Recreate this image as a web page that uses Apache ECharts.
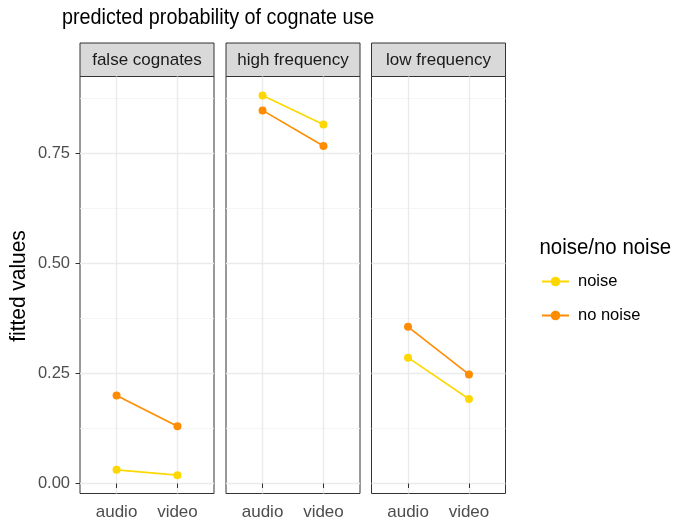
<!DOCTYPE html>
<html>
<head>
<meta charset="utf-8">
<script src="https://cdn.jsdelivr.net/npm/echarts@6/dist/echarts.min.js"></script>
<style>html,body{margin:0;padding:0;background:#fff;}#c{width:676px;height:521px;}</style>
</head>
<body>
<div id="c"></div>
<script>
// ---- data ----
const panels = ['false cognates', 'high frequency', 'low frequency'];
const conditions = ['audio', 'video'];
const groups = ['noise', 'no noise'];
const yTicks = [0, 0.25, 0.5, 0.75];
const yMinorTicks = [0.125, 0.375, 0.625, 0.875];
const noiseFalse = [0.031, 0.019];
const noiseHigh = [0.882, 0.816];
const noiseLow = [0.286, 0.192];
const noNoiseFalse = [0.200, 0.130];
const noNoiseHigh = [0.848, 0.767];
const noNoiseLow = [0.356, 0.248];

const noiseValues = [noiseFalse, noiseHigh, noiseLow];
const noNoiseValues = [noNoiseFalse, noNoiseHigh, noNoiseLow];
const groupValues = [noiseValues, noNoiseValues];
const groupColors = ['#FFD700', '#FF8C00'];

// ---- layout ----
const FONT = '"Liberation Sans", Arial, sans-serif';
const panelLeft = [80, 226, 371.5];
const panelWidth = 134;
const plotTop = 76.5;
const plotHeight = 417;
const stripTop = 43;
const stripHeight = 33.5;
const xPos = conditions.map((c, j) => j + 1);

const grids = [], xAxes = [], yAxes = [], series = [], graphics = [];
panels.forEach((p, i) => {
  grids.push({left: panelLeft[i], top: plotTop, width: panelWidth, height: plotHeight,
    show: true, borderColor: '#333333', borderWidth: 1, backgroundColor: '#fff', containLabel: false});
  xAxes.push({
    type: 'value', gridIndex: i, min: 0.4, max: 2.6,
    axisLine: {show: false},
    axisTick: {show: true, customValues: xPos, length: 4.5, lineStyle: {color: '#333333', width: 1}},
    axisLabel: {show: true, customValues: xPos, margin: 10, fontSize: 17, color: '#4d4d4d', fontFamily: FONT,
      formatter: v => conditions[Math.round(v) - 1] || ''},
    splitLine: {show: true, lineStyle: {color: '#ebebeb', width: 1.4}}
  });
  yAxes.push({
    type: 'value', gridIndex: i, min: -0.0227, max: 0.925,
    axisLine: {show: false},
    axisTick: {show: i === 0, customValues: yTicks, length: 4.5, lineStyle: {color: '#333333', width: 1}},
    axisLabel: {show: i === 0, customValues: yTicks, margin: 10, fontSize: 16.5, color: '#4d4d4d', fontFamily: FONT,
      formatter: v => v.toFixed(2)},
    splitLine: {show: true, lineStyle: {color: '#ebebeb', width: 1.4}}
  });
  yAxes.push({
    type: 'value', gridIndex: i, min: -0.0227, max: 0.925, position: 'left',
    axisLine: {show: false}, axisLabel: {show: false, customValues: yMinorTicks},
    axisTick: {show: false, customValues: yMinorTicks},
    splitLine: {show: true, lineStyle: {color: '#f3f3f3', width: 0.8}}
  });
  groups.forEach((g, k) => {
    series.push({
      type: 'line', name: g, xAxisIndex: i, yAxisIndex: i * 2,
      data: xPos.map((x, j) => [x, groupValues[k][i][j]]),
      color: groupColors[k], symbol: 'circle', symbolSize: 8, showSymbol: true,
      lineStyle: {width: 1.6, color: groupColors[k]},
      itemStyle: {color: groupColors[k]}, animation: false, z: 3
    });
  });
  graphics.push({type: 'rect', shape: {x: panelLeft[i], y: stripTop, width: panelWidth, height: stripHeight},
    style: {fill: '#d9d9d9', stroke: '#333333', lineWidth: 1}});
  graphics.push({type: 'text', x: panelLeft[i] + panelWidth / 2, y: stripTop + stripHeight / 2 + 1,
    style: {text: p, fill: '#1a1a1a', font: '17px ' + FONT, textAlign: 'center', textVerticalAlign: 'middle'}});
});

// titles (lightly condensed to match the reference's letter proportions)
graphics.push({type: 'text', x: 62, y: 18.5, scaleX: 0.92,
  style: {text: 'predicted probability of cognate use', fill: '#000', font: '21.5px ' + FONT,
    textAlign: 'left', textVerticalAlign: 'middle'}});
graphics.push({type: 'text', x: 18.5, y: 286, rotation: Math.PI / 2, scaleX: 0.95,
  style: {text: 'fitted values', fill: '#000', font: '22px ' + FONT,
    textAlign: 'center', textVerticalAlign: 'middle'}});
graphics.push({type: 'text', x: 539.5, y: 248.5, scaleX: 0.95,
  style: {text: 'noise/no noise', fill: '#000', font: '21.5px ' + FONT,
    textAlign: 'left', textVerticalAlign: 'middle'}});

const chart = echarts.init(document.getElementById('c'), null, {renderer: 'canvas'});
chart.setOption({
  animation: false,
  backgroundColor: '#fff',
  legend: {data: groups, orient: 'vertical', left: 541, top: 273, padding: 0,
    itemWidth: 27, itemHeight: 12, itemGap: 17,
    textStyle: {fontSize: 16.5, color: '#000', fontFamily: FONT, padding: [0, 0, 0, 4]}},
  grid: grids, xAxis: xAxes, yAxis: yAxes, series: series, graphic: graphics
});
</script>
</body>
</html>
